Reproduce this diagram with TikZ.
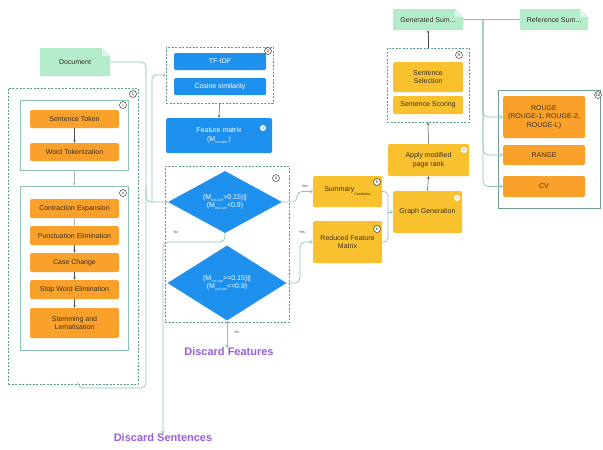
\documentclass[tikz,border=0pt]{standalone}
\usepackage{fontspec}
\setmainfont{Liberation Sans}
\usetikzlibrary{shapes.geometric,arrows.meta,calc}
\definecolor{orangeC}{HTML}{F9A12B}
\definecolor{yellowC}{HTML}{FAC12F}
\definecolor{blueC}{HTML}{1E90EE}
\definecolor{noteC}{HTML}{B4EBCB}
\definecolor{foldC}{HTML}{DDF6E7}
\definecolor{connC}{HTML}{8EC3B8}
\definecolor{dashC}{HTML}{5E9C91}
\definecolor{solidC}{HTML}{8CC4B8}
\definecolor{evalC}{HTML}{6F9C94}
\definecolor{purpleC}{HTML}{9B5DE0}
\definecolor{txtC}{HTML}{3A3028}
\newcommand\fsz{\fontsize{7}{8.4}\selectfont}
\newcommand\sbt[1]{\raisebox{-1.8pt}{\fontsize{3.5}{3.5}\selectfont #1}}
\begin{document}
\begin{tikzpicture}[x=1pt,y=-1pt,
  obox/.style={fill=orangeC, rounded corners=1.5pt, inner sep=1pt, align=center, font=\fsz, text=txtC},
  ybox/.style={fill=yellowC, rounded corners=1.5pt, inner sep=1pt, align=center, font=\fsz, text=txtC},
  bbox/.style={fill=blueC, rounded corners=1.5pt, inner sep=1pt, align=center, font=\fsz, text=white},
  dia/.style={diamond, fill=blueC, inner sep=0pt, align=center, font=\fsz, text=white},
  dgrp/.style={draw=dashC, line width=0.6pt, dash pattern=on 2pt off 1.5pt, inner sep=0pt},
  sgrp/.style={draw=solidC, line width=0.8pt, inner sep=0pt},
  numc/.style={circle, draw=black!85, fill=white, line width=0.45pt, inner sep=0pt, minimum size=7pt, font=\fontsize{3.8}{3.8}\selectfont},
  numw/.style={circle, fill=white, inner sep=0pt, minimum size=6pt, font=\fontsize{3.5}{3.5}\selectfont, text=black!60},
  note/.style={inner sep=1pt, align=center, font=\fsz, text=txtC, path picture={
     \fill[noteC] (path picture bounding box.south west) -- (path picture bounding box.north west)
       -- ([xshift=-8pt]path picture bounding box.north east) -- ([yshift=-8pt]path picture bounding box.north east)
       -- (path picture bounding box.south east) -- cycle;
     \fill[foldC] ([xshift=-8pt]path picture bounding box.north east) -- ([xshift=-8pt,yshift=-8pt]path picture bounding box.north east)
       -- ([yshift=-8pt]path picture bounding box.north east) -- cycle;}},
  dk/.style={draw=black!70, line width=0.5pt, -{Stealth[length=2.6pt,width=2.2pt]}},
  lt/.style={draw=black!30, line width=0.5pt, -{Stealth[length=2.6pt,width=2.2pt]}},
  conn/.style={draw=connC, line width=0.7pt},
  carr/.style={conn, -{Straight Barb[length=2pt,width=3pt]}},
  yn/.style={font=\fontsize{3.6}{3.6}\selectfont, text=black!75, inner sep=0pt},
  disc/.style={font=\fontsize{11}{13}\selectfont\bfseries, text=purpleC, inner sep=0pt}
]
\useasboundingbox[fill=white] (0,0) rectangle (603,450);

% ---------- left part ----------
\node[note, minimum width=70pt, minimum height=28pt] (doc) at (75,62) {Document};
\node[dgrp, minimum width=130pt, minimum height=296pt] (g1) at (73,236) {};
\node[sgrp, minimum width=108pt, minimum height=70pt] (gi) at (74,135) {};
\node[obox, minimum width=89pt, minimum height=18pt] (st) at (74.5,119) {Sentence Token};
\node[obox, minimum width=89pt, minimum height=18pt] (wt) at (74.5,152) {Word Tokenization};
\node[sgrp, minimum width=108pt, minimum height=164pt] (gii) at (74,268) {};
\node[obox, minimum width=89pt, minimum height=19pt] (ce) at (74.5,208.5) {Contraction Expansion};
\node[obox, minimum width=89pt, minimum height=19pt] (pe) at (74.5,235.5) {Punctuation Elimination};
\node[obox, minimum width=89pt, minimum height=19pt] (cc) at (74.5,262.5) {Case Change};
\node[obox, minimum width=89pt, minimum height=19pt] (sw) at (74.5,289.5) {Stop Word Elimination};
\node[obox, minimum width=89pt, minimum height=30pt] (sl) at (74.5,323) {Stemming and\\Lematisation};
\node[numc] (n1) at (133,94) {1};
\node[numc] (ni) at (123,105) {i};
\node[numc] (nii) at (123,193) {ii};

\draw[dk] (st) -- (wt);
\draw[lt] (gi.south) -- (gii.north);
\draw[lt] (ce) -- (pe);
\draw[dk] (pe) -- (cc);
\draw[dk] (cc) -- (sw);
\draw[dk] (sw) -- (sl);

% ---------- middle part ----------
\node[dgrp, minimum width=107pt, minimum height=56pt] (g2) at (219.5,75) {};
\node[bbox, minimum width=92pt, minimum height=17pt] (tfidf) at (220,61.5) {TF-IDF};
\node[bbox, minimum width=92pt, minimum height=17pt] (cos) at (220,86.5) {Cosine similarity};
\node[numc] (n2) at (268,51) {2};
\node[bbox, minimum width=106pt, minimum height=35pt] (fm) at (219,135.5) {Feature matrix\\[1pt](M\sbt{cos-sim}\,)};
\node[numw] (n3) at (263,128) {3};
\draw[dk] (g2.south) -- (fm.north);

\node[dgrp, minimum width=124pt, minimum height=156pt] (g4) at (227,244) {};
\node[dia, minimum width=114pt, minimum height=62pt] (d1) at (225,202) {(M\sbt{cos-sim}>0.15)||\\(M\sbt{cos-sim}<0.9)};
\node[dia, minimum width=119pt, minimum height=75pt] (d2) at (227,283) {(M\sbt{cos-sim}>=0.15)||\\(M\sbt{cos-sim}<=0.9)};
\node[numc] (n4) at (276,178) {4};
\node[disc] (dfeat) at (229,352) {Discard Features};
\node[disc] (dsent) at (163,438) {Discard Sentences};
\node[yn] (no1) at (176,232) {No};
\node[yn] (no2) at (237,332) {No};
\node[yn] (yes1) at (305,186) {Yes};
\node[yn] (yes2) at (302,232) {Yes};

% ---------- right part ----------
\node[ybox, minimum width=69pt, minimum height=31pt] (summ) at (347.5,191.5) {Summary\raisebox{-4pt}{\fontsize{3.6}{3.6}\selectfont Candidate}};
\node[ybox, minimum width=69pt, minimum height=42pt] (rfm) at (347.5,242) {Reduced Feature\\Matrix};
\node[numc] (n5) at (377,182) {5};
\node[numc] (n6) at (377,229) {6};
\node[ybox, minimum width=69pt, minimum height=42pt] (gg) at (427.5,212) {Graph Generation};
\node[numw] (n7) at (457,198) {7};
\node[ybox, minimum width=81pt, minimum height=32pt] (apr) at (428.5,160) {Apply modified\\page rank};
\node[numw] (n8) at (464,150) {8};
\node[dgrp, minimum width=82pt, minimum height=74pt] (g9) at (428,85) {};
\node[ybox, minimum width=70pt, minimum height=30pt] (ss) at (428,77) {Sentence\\Selection};
\node[ybox, minimum width=70pt, minimum height=18pt] (sc) at (428,105) {Sentence Scoring};
\node[numc] (n9) at (459,55) {9};
\node[note, minimum width=70pt, minimum height=21pt] (gen) at (428,19.5) {Generated Sum...};
\node[note, minimum width=68pt, minimum height=21pt] (ref) at (554,19.5) {Reference Sum...};
\draw[dk] (gg.north) -- (apr.south);
\draw[dk] (apr.north) -- (g9.south);
\draw[dk] (g9.north) -- (gen.south);

\node[draw=evalC, line width=0.6pt, inner sep=0pt, minimum width=102pt, minimum height=118pt] (g10) at (549,149) {};
\node[obox, minimum width=82pt, minimum height=42pt] (rouge) at (544,117) {ROUGE\\(ROUGE-1, ROUGE-2,\\ROUGE-L)};
\node[obox, minimum width=82pt, minimum height=20pt] (range) at (544,155) {RANGE};
\node[obox, minimum width=82pt, minimum height=21pt] (cv) at (544,186.5) {CV};
\node[numc] (n10) at (598,95) {10};

% ---------- connectors ----------
\coordinate (lb1) at (146,62);
\coordinate (lb2) at (146,388);
\coordinate (lb3) at (78,388);
\coordinate (lbm) at (146,188);
\coordinate (j1) at (152,202);
\draw[conn, rounded corners=5pt] (doc.east) -- (lb1) -- (lb2) -- (lb3) -- (lb3 |- g1.south);
\draw[carr, rounded corners=5pt] (lbm) |- (d1.west);
\draw[carr, rounded corners=4pt] (j1) |- (g2.west);

\coordinate (nb) at (163,242);
\draw[carr, rounded corners=5pt] (d1.south) |- (nb) -- (dsent.north);
\draw[carr] (d2.south) -- (d2.south |- dfeat.north);

\coordinate (y1) at (297,202);
\coordinate (y2) at (300,283);
\draw[carr, rounded corners=5pt] (d1.east) -- (y1) |- (summ.west);
\draw[carr, rounded corners=5pt] (d2.east) -- (y2) |- (rfm.west);

\coordinate (j2) at (388,212);
\draw[conn, rounded corners=4pt] (summ.east) -| (j2);
\draw[conn, rounded corners=4pt] (rfm.east) -| (j2);
\draw[carr] (j2) -- (gg.west);

\coordinate (rb) at (483,19.5);
\draw[conn] (gen.east) -- (ref.west);
\draw[carr, rounded corners=5pt] (rb) |- (rouge.west);
\draw[carr, rounded corners=5pt] (rb) |- (range.west);
\draw[carr, rounded corners=5pt] (rb) |- (cv.west);
\end{tikzpicture}
\end{document}
